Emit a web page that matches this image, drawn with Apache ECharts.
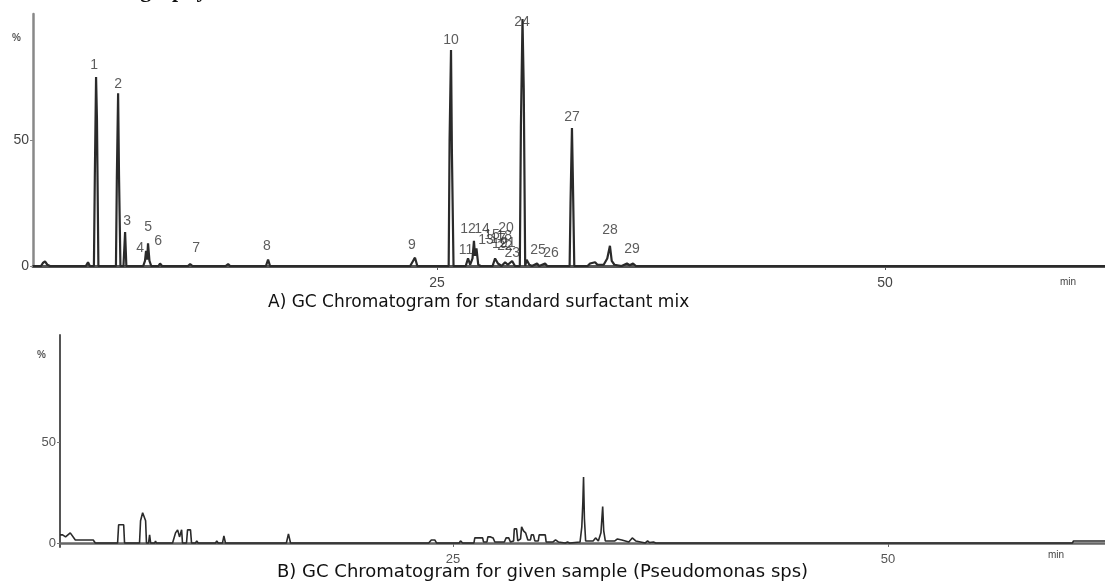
<!DOCTYPE html>
<html>
<head>
<meta charset="utf-8">
<title>GC Chromatograms</title>
<script src="https://cdn.jsdelivr.net/npm/echarts@6/dist/echarts.min.js"></script>
<style>
  html, body { margin: 0; padding: 0; background: #fff; }
  #chart { width: 1105px; height: 586px; }
</style>
</head>
<body>
<div id="chart"></div>
<script>
// retention time (min), response (%)
var traceA = [
  [2.45, 0], [2.9, 0], [3.0, 1.2], [3.12, 1.8], [3.25, 0.5], [3.4, 0],
  [5.4, 0], [5.52, 1.5], [5.62, 0],
  [5.85, 0], [5.9, 35], [5.97, 75], [6.02, 58], [6.1, 0],
  [6.3, 0], [6.4, 0.6], [6.5, 0],
  [7.08, 0], [7.13, 35], [7.2, 68.5], [7.25, 36], [7.33, 0],
  [7.5, 0], [7.59, 13.5], [7.66, 0],
  [8.6, 0], [8.7, 2], [8.76, 6], [8.82, 2.5], [8.87, 9], [8.95, 2], [9.05, 0],
  [9.45, 0], [9.54, 1], [9.65, 0],
  [11.1, 0], [11.22, 0.8], [11.35, 0],
  [12.2, 0], [12.3, 0.5], [12.4, 0],
  [13.2, 0], [13.34, 0.8], [13.45, 0],
  [14.3, 0], [14.4, 0.5], [14.5, 0],
  [15.45, 0], [15.57, 2.5], [15.68, 0],
  [23.5, 0], [23.7, 2.5], [23.77, 3.3], [23.9, 0],
  [25.65, 0], [25.7, 50], [25.78, 85.7], [25.83, 45], [25.92, 0],
  [26.6, 0], [26.73, 3], [26.85, 0.5], [26.98, 3], [27.06, 10], [27.12, 4], [27.2, 7], [27.3, 0.5], [27.45, 0],
  [28.1, 0], [28.24, 3], [28.4, 1], [28.6, 0], [28.8, 1.5], [28.95, 0.5], [29.19, 2], [29.35, 0],
  [29.62, 0], [29.68, 55], [29.77, 98], [29.84, 70], [29.92, 0],
  [30.0, 2.5], [30.15, 0.5], [30.3, 0], [30.58, 1], [30.7, 0], [31.03, 1], [31.15, 0],
  [32.4, 0], [32.45, 25], [32.53, 54.8], [32.58, 35], [32.66, 0],
  [33.4, 0], [33.54, 1], [33.65, 0.3], [33.82, 1.5], [33.95, 0.5], [34.3, 0.5], [34.5, 3], [34.65, 8], [34.75, 2], [34.9, 0.5],
  [35.3, 0], [35.6, 1], [35.75, 0.3], [35.94, 1], [36.1, 0], [62.28, 0]
];

var traceB = [
  [2.41, 4], [2.56, 4], [2.73, 3], [3.0, 5], [3.29, 1.5], [4.32, 1.5], [4.44, 0],
  [5.72, 0], [5.78, 9], [6.07, 9], [6.12, 0],
  [6.98, 0], [7.04, 11], [7.16, 15], [7.33, 11], [7.38, 0],
  [7.5, 0], [7.56, 4], [7.62, 0],
  [7.85, 0], [7.9, 1], [7.95, 0], [8.2, 0], [8.25, 0.5], [8.3, 0],
  [8.88, 0], [9.05, 5], [9.17, 6.5], [9.28, 3], [9.4, 6.5], [9.45, 0],
  [9.68, 0], [9.74, 6.5], [9.91, 6.5], [9.97, 0],
  [10.2, 0], [10.27, 1], [10.35, 0],
  [11.35, 0], [11.42, 1], [11.5, 0], [11.75, 0], [11.83, 3.5], [11.92, 0],
  [13.8, 0], [13.9, 0.5], [14.0, 0], [14.5, 0], [14.6, 0.5], [14.7, 0],
  [15.42, 0], [15.54, 4.5], [15.66, 0],
  [23.6, 0], [23.75, 1.5], [23.95, 1.5], [24.05, 0],
  [25.35, 0], [25.43, 1], [25.55, 0],
  [26.2, 0], [26.25, 2.5], [26.7, 2.5], [26.75, 0.5],
  [26.95, 0.5], [27.0, 3], [27.16, 3], [27.3, 2.5], [27.4, 0.5],
  [27.95, 0.5], [28.05, 2.5], [28.2, 2.5], [28.3, 0.5],
  [28.48, 1], [28.52, 7], [28.65, 7], [28.72, 1], [28.88, 2], [28.94, 8], [29.05, 6], [29.17, 5], [29.3, 1.5],
  [29.45, 1.5], [29.5, 4], [29.62, 4], [29.7, 1], [29.9, 1], [29.95, 4], [30.3, 4], [30.35, 0.5],
  [30.75, 0.5], [30.89, 1.5], [31.05, 0.5], [31.45, 0], [31.58, 0.5], [31.7, 0],
  [32.3, 0.5], [32.4, 8], [32.46, 20], [32.5, 32.7], [32.55, 12], [32.62, 1],
  [33.05, 1], [33.19, 2.5], [33.35, 1], [33.5, 5], [33.6, 18], [33.66, 6], [33.75, 1],
  [34.3, 1], [34.45, 2], [34.7, 1.5], [35.1, 0.5], [35.3, 2.5], [35.37, 3], [35.5, 1],
  [36.05, 0], [36.18, 1], [36.3, 0.2], [36.52, 0.5], [36.65, 0],
  [52.9, 0], [53.0, 0.5], [53.1, 0], [54.5, 0], [54.6, 0.5], [54.7, 0],
  [60.6, 0], [60.66, 1], [62.47, 1]
];

// peak numbers and where they sit (min, %)
var labelNames = ['1', '2', '3', '4', '5', '6', '7', '8', '9', '10',
  '11', '12', '14', '13', '15', '17', '19', '20', '18', '21', '22', '23',
  '24', '25', '26', '27', '28', '29'];
var labelTimes = [5.86, 7.2, 7.7, 8.43, 8.87, 9.43, 11.55, 15.51, 23.6, 25.78,
  26.62, 26.73, 27.51, 27.73, 28.07, 28.4, 28.5, 28.85, 28.75, 28.95, 28.8, 29.2,
  29.74, 30.64, 31.36, 32.53, 34.65, 35.88];
var labelHeights = [79.8, 72.2, 17.9, 7.1, 15.5, 9.9, 7.1, 7.9, 8.3, 89.7,
  6.3, 14.7, 14.7, 10.3, 12.3, 10.7, 8.7, 15.1, 11.9, 9.1, 7.9, 5.2,
  96.8, 6.3, 5.2, 59.1, 14.3, 6.7];

var axisTicks = [25, 50];
var yTicks = [0, 50];

var labelData = labelNames.map(function (n, i) {
  return { name: n, value: [labelTimes[i], labelHeights[i]] };
});

var chart = echarts.init(document.getElementById('chart'));
chart.setOption({
  animation: false,
  backgroundColor: '#fff',
  textStyle: { fontFamily: 'Liberation Sans, Arial, sans-serif' },
  grid: [
    { left: 33, top: 14, width: 1072, height: 252 },
    { left: 60, top: 335, width: 1045, height: 212 }
  ],
  xAxis: [
    {
      type: 'value', gridIndex: 0, min: 2.45, max: 62.28,
      axisLine: { lineStyle: { color: '#555', width: 3 } },
      axisTick: { customValues: axisTicks, length: 4, lineStyle: { color: '#555' } },
      axisLabel: { customValues: axisTicks, color: '#444', fontSize: 14, margin: 10 },
      splitLine: { show: false }
    },
    {
      type: 'value', gridIndex: 1, min: 2.41, max: 62.47,
      axisLine: { lineStyle: { color: '#666', width: 2.5 } },
      axisTick: { customValues: axisTicks, length: 4, lineStyle: { color: '#666' } },
      axisLabel: { customValues: axisTicks, color: '#555', fontSize: 13, margin: 6 },
      splitLine: { show: false }
    }
  ],
  yAxis: [
    {
      type: 'value', gridIndex: 0, min: 0, max: 100,
      axisLine: { show: true, lineStyle: { color: '#888', width: 2.5 } },
      axisTick: { show: true, customValues: yTicks, length: 3, lineStyle: { color: '#888' } },
      axisLabel: { customValues: yTicks, color: '#444', fontSize: 14, margin: 4 },
      splitLine: { show: false }
    },
    {
      type: 'value', gridIndex: 1, min: -2, max: 103,
      axisLine: { show: true, lineStyle: { color: '#555', width: 2 } },
      axisTick: { show: true, customValues: yTicks, length: 3, lineStyle: { color: '#777' } },
      axisLabel: { customValues: yTicks, color: '#555', fontSize: 13, margin: 4 },
      splitLine: { show: false }
    }
  ],
  series: [
    {
      name: 'Standard surfactant mix', type: 'line', xAxisIndex: 0, yAxisIndex: 0,
      data: traceA, symbol: 'none', silent: true,
      lineStyle: { color: '#2a2a2a', width: 2.2 }
    },
    {
      name: 'Peak numbers', type: 'scatter', xAxisIndex: 0, yAxisIndex: 0,
      data: labelData, symbolSize: 1, silent: true,
      itemStyle: { color: 'rgba(0,0,0,0)' },
      label: {
        show: true, position: 'inside', formatter: '{b}',
        color: '#333', fontSize: 14
      },
      z: 3
    },
    {
      name: 'Pseudomonas sps sample', type: 'line', xAxisIndex: 1, yAxisIndex: 1,
      data: traceB, symbol: 'none', silent: true,
      lineStyle: { color: '#2a2a2a', width: 1.6 }
    }
  ],
  graphic: [
    { type: 'text', left: 2, top: -20, silent: true,
      style: { text: 'Gas Chromatography', font: 'bold 22px "Liberation Serif", serif', fill: '#111' } },
    { type: 'text', left: 12, top: 33, silent: true,
      style: { text: '%', font: 'bold 10px "Liberation Sans", sans-serif', fill: '#555' } },
    { type: 'text', left: 1060, top: 277, silent: true,
      style: { text: 'min', font: '10px "Liberation Sans", sans-serif', fill: '#444' } },
    { type: 'text', left: 268, top: 294, silent: true,
      style: { text: 'A) GC Chromatogram for standard surfactant mix', font: '17px "DejaVu Sans", sans-serif', fill: '#111' } },
    { type: 'text', left: 37, top: 350, silent: true,
      style: { text: '%', font: 'bold 10px "Liberation Sans", sans-serif', fill: '#555' } },
    { type: 'text', left: 1048, top: 550, silent: true,
      style: { text: 'min', font: '10px "Liberation Sans", sans-serif', fill: '#444' } },
    { type: 'text', left: 277, top: 563, silent: true,
      style: { text: 'B) GC Chromatogram for given sample (Pseudomonas sps)', font: '18px "DejaVu Sans", sans-serif', fill: '#111' } }
  ]
});
</script>
</body>
</html>
